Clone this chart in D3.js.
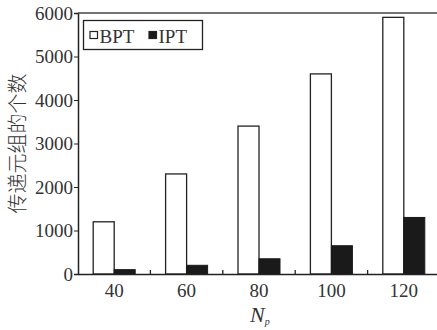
<!DOCTYPE html>
<html>
<head>
<meta charset="utf-8">
<script src="https://cdn.jsdelivr.net/npm/d3@7"></script>
<style>
body { margin: 0; background: #fff; }
svg text { font-family: "Liberation Serif", "DejaVu Serif", serif; fill: #333; }
</style>
</head>
<body>
<div id="chart"></div>
<script>
var categories = ["40", "60", "80", "100", "120"];
var seriesNames = ["BPT", "IPT"];
var bptValues = [1200, 2300, 3400, 4600, 5900];
var iptValues = [100, 200, 350, 650, 1300];
var yTicks = [0, 1000, 2000, 3000, 4000, 5000, 6000];

var width = 437, height = 330;
var margin = {left: 78, top: 13, bottom: 56};
var plotRight = 440;

var svg = d3.select('#chart').append('svg')
	.attr('width', width).attr('height', height);

var x = d3.scaleBand().domain(categories)
	.range([margin.left, plotRight]).paddingInner(0).paddingOuter(0);
var y = d3.scaleLinear().domain([0, 6000]).range([height - margin.bottom, margin.top]);
var barW = 21;

var data = categories.map(function(c, i) {
	return {cat: c, bpt: bptValues[i], ipt: iptValues[i]};
});

// bars
var g = svg.append('g');
g.selectAll('rect.bpt').data(data).enter().append('rect')
	.attr('class', 'bpt')
	.attr('x', function(d) { return x(d.cat) + x.bandwidth() / 2 - barW; })
	.attr('y', function(d) { return y(d.bpt); })
	.attr('width', barW)
	.attr('height', function(d) { return y(0) - y(d.bpt); })
	.attr('fill', '#fff').attr('stroke', '#222').attr('stroke-width', 1.3);
g.selectAll('rect.ipt').data(data).enter().append('rect')
	.attr('class', 'ipt')
	.attr('x', function(d) { return x(d.cat) + x.bandwidth() / 2; })
	.attr('y', function(d) { return y(d.ipt); })
	.attr('width', barW)
	.attr('height', function(d) { return y(0) - y(d.ipt); })
	.attr('fill', '#1a1a1a').attr('stroke', '#1a1a1a').attr('stroke-width', 1);

// y axis
var yAxis = svg.append('g')
	.attr('transform', 'translate(' + margin.left + ',0)')
	.call(d3.axisLeft(y).tickValues(yTicks).tickSize(4).tickPadding(1).tickFormat(d3.format('d')));
yAxis.select('.domain').attr('stroke', '#222').attr('stroke-width', 1.5);
yAxis.selectAll('.tick line').attr('stroke', '#222');
yAxis.selectAll('text').style('font-size', '19px').attr('fill', '#555');

// x axis
var xAxis = svg.append('g')
	.attr('transform', 'translate(0,' + y(0) + ')')
	.call(d3.axisBottom(x).tickSize(0).tickPadding(10));
xAxis.select('.domain').attr('stroke', '#222').attr('stroke-width', 1.5);
xAxis.selectAll('text').style('font-size', '19px').attr('fill', '#555');

// inward ticks between categories
var bounds = categories.slice(1).map(function(c) { return x(c); });
svg.selectAll('line.sep').data(bounds).enter().append('line')
	.attr('x1', function(d) { return d; }).attr('x2', function(d) { return d; })
	.attr('y1', y(0)).attr('y2', y(0) - 4)
	.attr('stroke', '#222').attr('stroke-width', 1.3);

// top frame line
svg.append('line')
	.attr('x1', margin.left).attr('x2', width)
	.attr('y1', margin.top).attr('y2', margin.top)
	.attr('stroke', '#444').attr('stroke-width', 1.3);

// y title
svg.append('text')
	.attr('transform', 'translate(16,' + ((margin.top + y(0)) / 2) + ') rotate(-90)')
	.attr('text-anchor', 'middle')
	.attr('dominant-baseline', 'central')
	.style('font-family', '"Noto Sans CJK SC", sans-serif')
	.style('font-size', '20px').style('font-weight', 300)
	.attr('fill', '#555')
	.text('传递元组的个数');

// x title
var xt = svg.append('text')
	.attr('x', 250).attr('y', 322)
	.style('font-size', '22px').style('font-style', 'italic')
	.attr('fill', '#555');
xt.append('tspan').text('N');
xt.append('tspan').attr('dy', 3).style('font-size', '10px').text('p');

// legend
var lg = svg.append('g');
lg.append('rect').attr('x', 83.5).attr('y', 20.5).attr('width', 119).attr('height', 29)
	.attr('fill', '#fff').attr('stroke', '#222').attr('stroke-width', 1.3);
var legendX = [90, 149];
seriesNames.forEach(function(s, i) {
	lg.append('rect').attr('x', legendX[i]).attr('y', 31.5).attr('width', 7.5).attr('height', 7)
		.attr('fill', i === 0 ? '#fff' : '#1a1a1a').attr('stroke', '#222').attr('stroke-width', 1.2);
	lg.append('text').attr('x', legendX[i] + 9.5).attr('y', 43)
		.style('font-size', '19px').attr('fill', '#444').text(s);
});
</script>
</body>
</html>
